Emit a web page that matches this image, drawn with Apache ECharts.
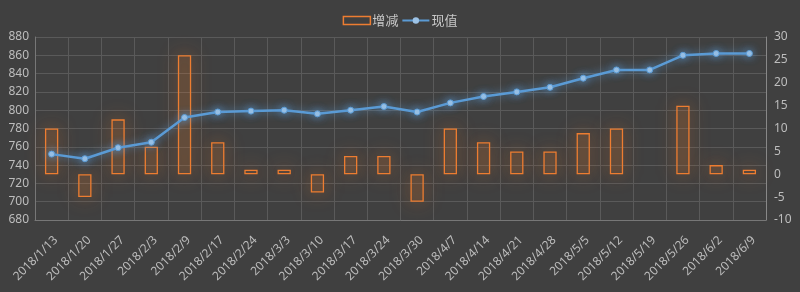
<!DOCTYPE html>
<html>
<head>
<meta charset="utf-8">
<script src="https://cdn.jsdelivr.net/npm/echarts@6/dist/echarts.min.js"></script>
<style>
html,body{margin:0;padding:0;background:#404040;}
#c{width:800px;height:292px;}
</style>
</head>
<body>
<div id="c"></div>
<script>
const categories = ['2018/1/13','2018/1/20','2018/1/27','2018/2/3','2018/2/9','2018/2/17','2018/2/24','2018/3/3','2018/3/10','2018/3/17','2018/3/24','2018/3/30','2018/4/7','2018/4/14','2018/4/21','2018/4/28','2018/5/5','2018/5/12','2018/5/19','2018/5/26','2018/6/2','2018/6/9'];
const changeValues = [10,-5,12,6,26,7,1,1,-4,4,4,-6,10,7,5,5,9,10,0,15,2,1];
const currentValues = [752,747,759,765,792,798,799,800,796,800,804,798,808,815,820,825,835,844,844,860,862,862];
const seriesNames = ['增减','现值'];

const chart = echarts.init(document.getElementById('c'), null, {renderer:'canvas'});
const axisLabel = {color:'#bdbdbd', fontSize:12, fontFamily:'"Noto Sans", sans-serif'};
chart.setOption({
  backgroundColor:'#404040',
  animation:false,
  legend:{
    top:9, left:'center', itemWidth:27, itemHeight:8, itemGap:3,
    textStyle:{color:'#c8c8c8', fontSize:13, fontFamily:'"Noto Sans CJK SC", sans-serif', padding:[0,0,0,-3]},
    data:[
      {name:seriesNames[0], icon:'rect', itemStyle:{color:'transparent', borderColor:'#ed7d31', borderWidth:1.5}},
      {name:seriesNames[1], itemStyle:{color:'#9dc3e6', borderWidth:0}}
    ]
  },
  grid:{left:35, right:34, top:37, bottom:72},
  xAxis:{
    type:'category', data:categories, boundaryGap:true,
    axisLine:{show:true, onZero:false, lineStyle:{color:'#777'}},
    axisTick:{show:false},
    splitLine:{show:true, lineStyle:{color:'#5a5a5a'}},
    axisLabel:Object.assign({rotate:45, interval:0, margin:14, verticalAlign:'top'}, axisLabel)
  },
  yAxis:[
    {type:'value', min:680, max:880, interval:20,
     axisLine:{show:true, lineStyle:{color:'#777'}}, axisTick:{show:false},
     splitLine:{show:true, lineStyle:{color:'#5a5a5a'}},
     axisLabel:Object.assign({margin:6}, axisLabel)},
    {type:'value', min:-10, max:30, interval:5, position:'right',
     axisLine:{show:true, lineStyle:{color:'#888'}}, axisTick:{show:false},
     splitLine:{show:false},
     axisLabel:Object.assign({margin:8}, axisLabel)}
  ],
  series:[
    {name:seriesNames[0], type:'bar', yAxisIndex:1,
     data:changeValues.map(v => v === 0 ? {value:v, itemStyle:{borderWidth:0, shadowBlur:0}} : v),
     barWidth:'40%',
     itemStyle:{color:'rgba(237,125,49,0.1)', borderColor:'#ed7d31', borderWidth:1.3,
       shadowColor:'rgba(237,125,49,0.9)', shadowBlur:18}},
    {name:seriesNames[1], type:'line', yAxisIndex:0, data:currentValues,
     symbol:'circle', symbolSize:6, showSymbol:true,
     lineStyle:{color:'#5b9bd5', width:2.5, shadowColor:'rgba(91,155,213,0.85)', shadowBlur:9},
     itemStyle:{color:'#9dc3e6', borderColor:'#5b9bd5', borderWidth:1, shadowColor:'rgba(91,155,213,0.9)', shadowBlur:9}}
  ]
});
</script>
</body>
</html>
